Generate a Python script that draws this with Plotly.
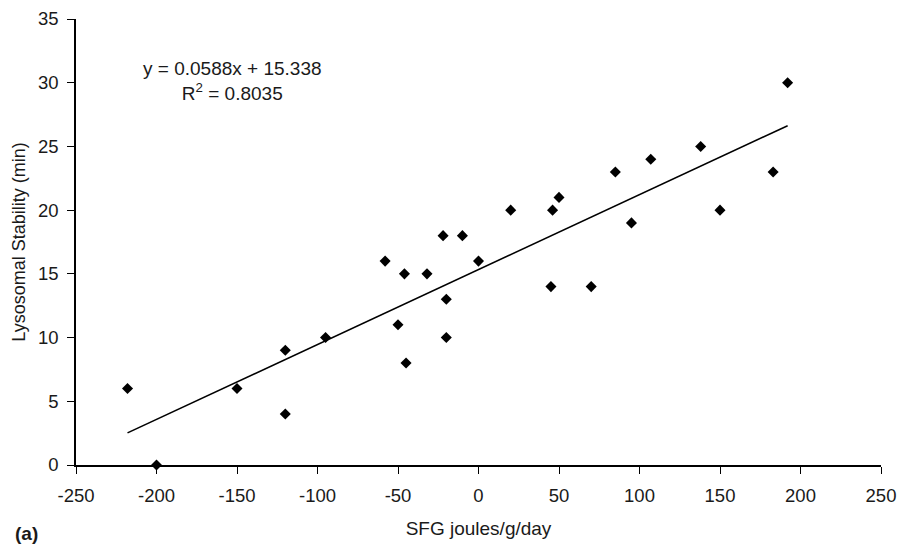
import plotly.graph_objects as go

sfg = [-218, -200, -150, -120, -120, -95, -58, -50, -46, -45, -32, -22, -20, -20, -10, 0,
       20, 45, 46, 50, 70, 85, 95, 107, 138, 150, 183, 192]
stability = [6, 0, 6, 9, 4, 10, 16, 11, 15, 8, 15, 18, 13, 10, 18, 16,
             20, 14, 20, 21, 14, 23, 19, 24, 25, 20, 23, 30]
slope = 0.0588
intercept = 15.338
r_squared = 0.8035
x_ticks = [-250, -200, -150, -100, -50, 0, 50, 100, 150, 200, 250]
x_tick_labels = ["-250", "-200", "-150", "-100", "-50", "0", "50", "100", "150", "200", "250"]
y_ticks = [0, 5, 10, 15, 20, 25, 30, 35]

fit_x = [min(sfg), max(sfg)]
fit_y = [slope * v + intercept for v in fit_x]

font = "Liberation Sans, Arial, sans-serif"
ink = "#1a1a1a"

fig = go.Figure()
fig.add_trace(go.Scatter(x=fit_x, y=fit_y, mode="lines",
                         line=dict(color="black", width=1.6),
                         showlegend=False, hoverinfo="skip"))
fig.add_trace(go.Scatter(x=sfg, y=stability, mode="markers",
                         marker=dict(symbol="diamond", size=8.5, color="black"),
                         cliponaxis=False, showlegend=False))

fig.add_annotation(x=0.195, y=0.86, xref="paper", yref="paper",
                   xanchor="center", yanchor="middle",
                   text=f"y = {slope}x + {intercept}<br>R<sup>2</sup> = {r_squared}",
                   showarrow=False, align="center",
                   font=dict(family=font, size=19, color=ink))
fig.add_annotation(x=-0.078, y=-0.153, xref="paper", yref="paper",
                   xanchor="left", yanchor="middle",
                   text="<b>(a)</b>", showarrow=False,
                   font=dict(family=font, size=19, color=ink))

fig.update_layout(
    width=889, height=542,
    margin=dict(l=68, r=16, t=11, b=85),
    paper_bgcolor="white", plot_bgcolor="white",
    font=dict(family=font, size=19, color=ink),
    xaxis=dict(range=[-250, 250], tickvals=x_ticks, ticktext=x_tick_labels,
               ticks="outside", ticklen=7, automargin=False,
               ticklabeloverflow="allow",
               tickwidth=1.3, tickcolor="black", showline=True, linecolor="black",
               linewidth=1.5, showgrid=False, zeroline=False, ticklabelstandoff=6,
               tickfont=dict(size=18.5),
               title=dict(text="SFG joules/g/day", font=dict(size=19), standoff=17)),
    yaxis=dict(range=[0, 35], tickvals=y_ticks, ticks="outside", ticklen=7,
               automargin=False, ticklabeloverflow="allow",
               tickwidth=1.3, tickcolor="black", showline=True, linecolor="black",
               linewidth=1.5, showgrid=False, zeroline=False, ticklabelstandoff=5,
               tickfont=dict(size=18.5),
               title=dict(text="Lysosomal Stability (min)", font=dict(size=18), standoff=8)),
)

fig.write_html("out.html")
